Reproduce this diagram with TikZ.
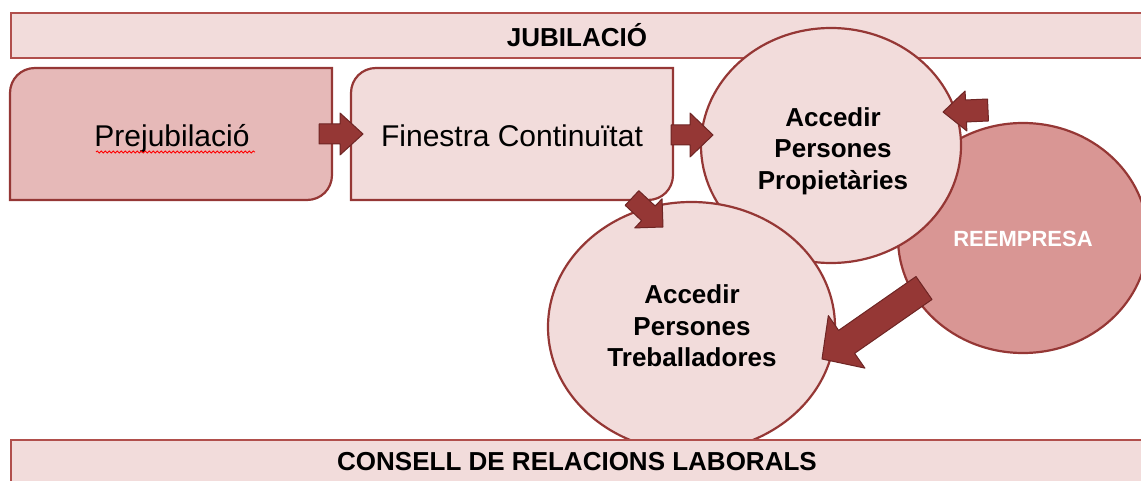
\documentclass[tikz,border=0pt]{standalone}
\usepackage{fontspec}
\setmainfont{Liberation Sans}
\usetikzlibrary{shapes.geometric,calc,decorations.pathmorphing,backgrounds}
\definecolor{dred}{HTML}{953735}
\definecolor{ddred}{HTML}{6E2524}
\definecolor{lpink}{HTML}{F2DCDB}
\definecolor{mpink}{HTML}{E6B9B8}
\definecolor{rpink}{HTML}{D99694}
\definecolor{barline}{HTML}{B14F4C}
\newcommand\diagshape[2]{%
  \draw[#2] (#1.south west) -- ($(#1.north west)+(0,25)$)
    .. controls ($(#1.north west)+(0,11)$) and ($(#1.north west)+(11,0)$) .. ($(#1.north west)+(25,0)$)
    -- (#1.north east) -- ($(#1.south east)+(0,-25)$)
    .. controls ($(#1.south east)+(0,-11)$) and ($(#1.south east)+(-11,0)$) .. ($(#1.south east)+(-25,0)$)
    -- cycle;}
% tail, tip, shaft half width, head half width, head length
\newcommand\blockarr[5]{%
  \coordinate (tmph) at ($(#2)!#5!(#1)$);
  \draw[barrow] ($(#1)!#3!90:(#2)$) -- ($(tmph)!#3!90:(#2)$) -- ($(tmph)!#4!90:(#2)$) -- (#2)
    -- ($(tmph)!#4!-90:(#2)$) -- ($(tmph)!#3!-90:(#2)$) -- ($(#1)!#3!-90:(#2)$) -- cycle;}
\begin{document}
\begin{tikzpicture}[x=1pt,y=-1pt,
  bar/.style={draw=barline, line width=1.8pt, fill=lpink, inner sep=0pt, outer sep=0pt, anchor=north west},
  bartext/.style={font=\bfseries\fontsize{26}{30}\selectfont, text=black},
  oval/.style={ellipse, draw=dred, line width=2.2pt, fill=lpink, inner sep=0pt, outer sep=0pt},
  ovaltext/.style={align=center, font=\bfseries\fontsize{26}{31.5}\selectfont},
  boxframe/.style={rectangle, inner sep=0pt, outer sep=0pt, minimum width=322pt, minimum height=132pt},
  boxtext/.style={anchor=base, font=\fontsize{30}{34}\selectfont},
  barrow/.style={fill=dred, draw=ddred, line width=1pt, line join=round},
  spell/.style={draw=red, line width=0.8pt, decorate, decoration={snake, amplitude=1.1pt, segment length=4pt}}
]
\useasboundingbox (0,0) rectangle (1141,481);
\clip (0,0) rectangle (1141,481);

% top bar
\node[bar, minimum width=1200pt, minimum height=45pt] (jub) at (11,13) {};
\node[bartext] (jubt) at (577,35) {JUBILACIÓ};

% circles
\node[oval, fill=rpink, minimum width=250pt, minimum height=230pt] (ree) at (1023,238) {};
\node[font=\bfseries\fontsize{22}{26}\selectfont, text=white] (reet) at (1023,239) {REEMPRESA};
\node[oval, minimum width=260pt, minimum height=235pt] (prop) at (831,145.5) {};
\node[ovaltext] (propt) at (833,151) {Accedir\\Persones\\Propietàries};
\node[oval, minimum width=287pt, minimum height=250pt] (treb) at (691.5,327) {};
\node[ovaltext] (trebt) at (692,326) {Accedir\\Persones\\Treballadores};

% bottom bar
\node[bar, minimum width=1200pt, minimum height=60pt] (cons) at (11,440) {};
\node[bartext] (const) at (577,462) {CONSELL DE RELACIONS LABORALS};

% boxes
\node[boxframe] (pre) at (171,134) {};
\node[boxframe] (fin) at (512,134) {};
\begin{scope}[on background layer]
  \diagshape{pre}{draw=dred, line width=2.2pt, fill=mpink}
  \diagshape{fin}{draw=dred, line width=2.2pt, fill=lpink}
\end{scope}
\node[boxtext] (pret) at (172,147) {Prejubilació};
\node[boxtext] (fint) at (512,147) {Finestra Continuïtat};
\draw[spell] (96,152) -- (255,152);

% block arrows
\coordinate (a1s) at (319,134);
\coordinate (a1e) at (363,134);
\coordinate (a2s) at (671,135);
\coordinate (a2e) at (713,135);
\coordinate (a3s) at (632,198);
\coordinate (a3e) at (663,227);
\coordinate (a4s) at (988,110);
\coordinate (a4e) at (943,112);
\coordinate (a5s) at (924,288);
\coordinate (a5e) at (822,359);
\blockarr{a1s}{a1e}{10pt}{21pt}{23pt}
\blockarr{a2s}{a2e}{10pt}{22pt}{23pt}
\blockarr{a3s}{a3e}{10pt}{20pt}{20pt}
\blockarr{a4s}{a4e}{11pt}{20pt}{23pt}
\blockarr{a5s}{a5e}{14pt}{32pt}{30pt}
\end{tikzpicture}
\end{document}
